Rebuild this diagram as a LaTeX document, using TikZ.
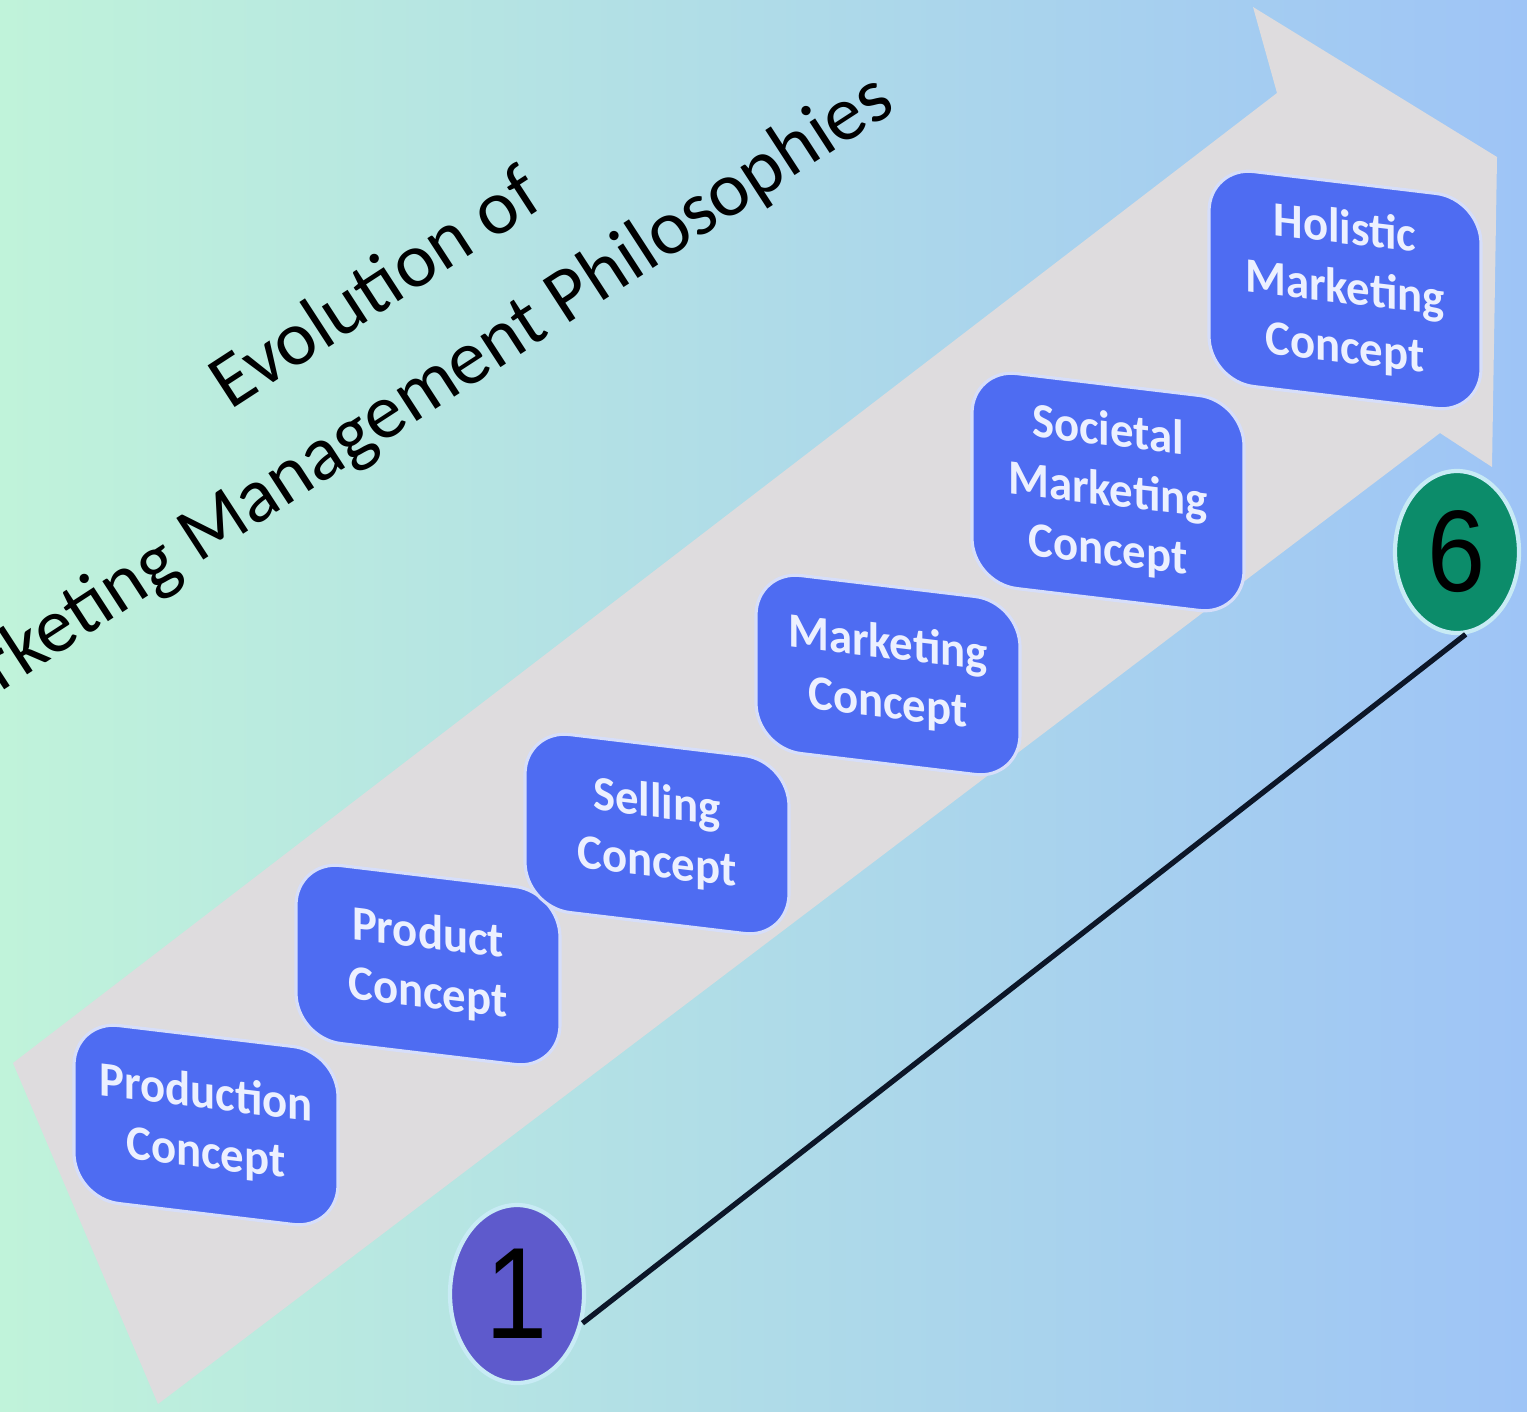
\documentclass[tikz,border=0pt]{standalone}
\usepackage{fontspec}
\usetikzlibrary{shapes.geometric}
\newfontfamily\titlefont{Carlito}
\newfontfamily\boxfont[FakeStretch=0.95]{Carlito}
\newfontfamily\numfont{Liberation Sans}
\definecolor{bgleft}{RGB}{192,243,218}
\definecolor{bgmid}{RGB}{176,224,232}
\definecolor{bgright}{RGB}{158,196,246}
\definecolor{arrowgrey}{RGB}{222,220,222}
\definecolor{boxblue}{RGB}{78,108,242}
\definecolor{boxedge}{RGB}{214,222,250}
\definecolor{boxtext}{RGB}{236,240,255}
\definecolor{onefill}{RGB}{94,90,204}
\definecolor{sixfill}{RGB}{12,140,106}
\definecolor{ringedge}{RGB}{200,235,245}
\definecolor{linkcol}{RGB}{12,22,40}
\begin{document}
\begin{tikzpicture}[
  conceptbox/.style={draw=boxedge, line width=0.9pt, fill=boxblue, rounded corners=0.45cm,
    minimum width=2.64cm, minimum height=1.78cm, align=center, text=boxtext,
    font=\boxfont\bfseries\fontsize{14}{17}\selectfont, inner sep=0pt, transform shape},
  tallbox/.style={conceptbox, minimum width=2.72cm, minimum height=2.15cm},
  titletext/.style={rotate=33, font=\titlefont\fontsize{22}{26}\selectfont, text=black, inner sep=0pt},
  stepdot/.style={ellipse, draw=ringedge, line width=1.2pt, inner sep=0pt},
  link/.style={draw=linkcol, line width=1.5pt}
]
\useasboundingbox (0,0) rectangle (15.27,-14.11);
\clip (0,0) rectangle (15.27,-14.11);
% background
\shade[left color=bgleft, middle color=bgmid, right color=bgright] (0,0) rectangle (15.27,-14.11);
% big grey arrow
\fill[arrowgrey] (0.13,-10.63) -- (12.77,-0.93) -- (12.53,-0.07) -- (14.97,-1.57)
  -- (14.92,-4.67) -- (14.40,-4.33) -- (1.58,-14.04) -- cycle;
% title
\node[titletext] (t1) at (3.74,-2.86) {Evolution of};
\node[titletext] (t2) at (3.95,-4.12) {Marketing Management Philosophies};
% concept boxes
\begin{scope}[shift={(2.06,-11.25)}, yslant=-0.12]
  \node[conceptbox] (b1) {Production\\Concept};
\end{scope}
\begin{scope}[shift={(4.28,-9.65)}, yslant=-0.12]
  \node[conceptbox] (b2) {Product\\Concept};
\end{scope}
\begin{scope}[shift={(6.57,-8.34)}, yslant=-0.12]
  \node[conceptbox] (b3) {Selling\\Concept};
\end{scope}
\begin{scope}[shift={(8.88,-6.75)}, yslant=-0.12]
  \node[conceptbox] (b4) {Marketing\\Concept};
\end{scope}
\begin{scope}[shift={(11.08,-4.92)}, yslant=-0.12]
  \node[tallbox] (b5) {Societal\\Marketing\\Concept};
\end{scope}
\begin{scope}[shift={(13.45,-2.90)}, yslant=-0.12]
  \node[tallbox] (b6) {Holistic\\Marketing\\Concept};
\end{scope}
% step circles
\node[stepdot, fill=onefill, minimum width=1.34cm, minimum height=1.78cm] (c1) at (5.17,-12.94)
  {\numfont\fontsize{37}{37}\selectfont\scalebox{0.86}[1]{1}};
\node[stepdot, fill=sixfill, minimum width=1.24cm, minimum height=1.62cm] (c6) at (14.57,-5.52)
  {\numfont\fontsize{33}{33}\selectfont\scalebox{0.9}[1]{6}};
\draw[link] (c1.-24) -- (c6.-84);
\end{tikzpicture}
\end{document}
